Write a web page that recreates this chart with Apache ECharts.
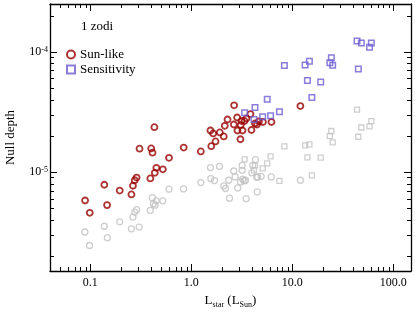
<!DOCTYPE html>
<html><head><meta charset="utf-8">
<script src="https://cdn.jsdelivr.net/npm/echarts@6/dist/echarts.min.js"></script>
<style>html,body{margin:0;padding:0;background:#fff}#c{width:415px;height:312px}</style>
</head><body><div id="c"></div>
<script>
// Sun-like stars (red circles)
const sunL = [0.089, 0.099, 0.138, 0.147, 0.196, 0.256, 0.265, 0.276, 0.288, 0.308, 0.394, 0.402, 0.414, 0.432, 0.436, 0.452, 0.524, 0.603, 0.843, 1.245, 1.55, 1.65, 1.58, 1.74, 1.92, 2.10, 2.15, 2.29, 2.66, 2.64, 2.85, 2.87, 3.09, 3.15, 3.07, 3.22, 3.37, 3.52, 3.86, 3.95, 4.28, 4.48, 4.68, 5.13, 6.23, 12.05];
const sunN = [5.79e-6, 4.57e-6, 7.83e-6, 5.30e-6, 7.01e-6, 6.50e-6, 7.68e-6, 8.54e-6, 8.99e-6, 1.563e-5, 8.84e-6, 1.572e-5, 1.448e-5, 2.36e-5, 9.85e-6, 1.083e-5, 1.053e-5, 1.311e-5, 1.596e-5, 1.484e-5, 2.215e-5, 2.092e-5, 1.639e-5, 1.796e-5, 2.133e-5, 1.976e-5, 2.423e-5, 2.733e-5, 3.59e-5, 2.485e-5, 2.84e-5, 2.215e-5, 2.46e-5, 2.656e-5, 1.873e-5, 2.215e-5, 2.656e-5, 2.786e-5, 3.035e-5, 2.236e-5, 2.532e-5, 2.485e-5, 2.63e-5, 2.606e-5, 2.606e-5, 3.536e-5];
// Sun-like, grey companion values
const sunGrayL = [0.0886, 0.0986, 0.138, 0.148, 0.196, 0.256, 0.265, 0.276, 0.288, 0.305, 0.393, 0.412, 0.422, 0.439, 0.451, 0.523, 0.602, 0.839, 1.245, 1.552, 1.563, 1.700, 1.905, 2.101, 2.184, 2.354, 2.392, 2.639, 2.724, 2.891, 3.074, 3.239, 3.195, 3.195, 3.445, 3.499, 3.344, 3.977, 4.069, 4.325, 4.455, 4.496, 4.559, 4.925, 6.185, 12.05];
const sunGrayN = [3.166e-6, 2.446e-6, 3.536e-6, 2.839e-6, 3.852e-6, 3.364e-6, 4.213e-6, 4.636e-6, 4.862e-6, 3.482e-6, 4.789e-6, 6.112e-6, 5.451e-6, 5.298e-6, 5.75e-6, 5.75e-6, 7.19e-6, 7.23e-6, 8.17e-6, 1.088e-5, 8.82e-6, 8.49e-6, 1.115e-5, 7.66e-6, 7.29e-6, 8.54e-6, 6.05e-6, 1.019e-5, 9.09e-6, 7.37e-6, 8.26e-6, 8.70e-6, 1.033e-5, 1.136e-5, 8.54e-6, 6.0e-6, 8.42e-6, 9.85e-6, 1.136e-5, 1.267e-5, 9.04e-6, 6.83e-6, 9.09e-6, 9.21e-6, 9.09e-6, 8.54e-6];
// Sensitivity (blue squares)
const sensL = [3.38, 4.28, 4.18, 5.10, 5.66, 6.11, 7.47, 8.37, 13.42, 14.80, 14.14, 15.66, 19.14, 23.60, 24.42, 25.16, 43.85, 48.36, 60.72, 58.29, 45.16];
const sensN = [3.106e-5, 3.436e-5, 2.733e-5, 2.886e-5, 4.025e-5, 2.936e-5, 3.171e-5, 7.70e-5, 7.76e-5, 8.34e-5, 5.78e-5, 4.175e-5, 5.61e-5, 8.11e-5, 8.92e-5, 7.73e-5, 1.233e-4, 1.183e-4, 1.183e-4, 1.094e-4, 7.19e-5];
// Sensitivity, grey companion values
const sensGrayL = [3.38, 4.28, 4.18, 5.10, 5.66, 6.11, 7.47, 8.37, 13.42, 14.80, 14.14, 15.66, 19.14, 23.60, 24.42, 25.16, 43.85, 48.36, 60.72, 58.29, 45.16];
const sensGrayN = [1.274e-5, 1.136e-5, 1.033e-5, 1.073e-5, 1.18e-5, 1.349e-5, 8.42e-6, 1.633e-5, 1.664e-5, 1.696e-5, 1.324e-5, 9.39e-6, 1.316e-5, 1.987e-5, 2.194e-5, 1.762e-5, 3.307e-5, 2.346e-5, 2.646e-5, 2.392e-5, 1.964e-5];

// Axis ticks
const xMajor = [0.1, 1, 10, 100];
const xMinor = [0.05, 0.06, 0.07, 0.08, 0.09, 0.2, 0.3, 0.4, 0.5, 0.6, 0.7, 0.8, 0.9, 2, 3, 4, 5, 6, 7, 8, 9, 20, 30, 40, 50, 60, 70, 80, 90];
const yMajor = [1e-5, 1e-4];
const yMinor = [2e-6, 3e-6, 4e-6, 5e-6, 6e-6, 7e-6, 8e-6, 9e-6, 2e-5, 3e-5, 4e-5, 5e-5, 6e-5, 7e-5, 8e-5, 9e-5, 2e-4];
const xMin = 0.04, xMax = 150, yMin = 1.5e-6, yMax = 2.5e-4;

const FONT = 'Liberation Serif';
const MAJOR_LEN = 7, MINOR_LEN = 4;
const zip = (a, b) => a.map((v, i) => [v, b[i]]);

function axis(pos, isX, primary) {
  const a = {
    type: 'log', position: pos,
    min: isX ? xMin : yMin, max: isX ? xMax : yMax,
    axisLine: { show: true, onZero: false, lineStyle: { color: '#000', width: 1.3 } },
    axisTick: { show: false },
    axisLabel: { show: false },
    splitLine: { show: false }
  };
  if (primary) {
    if (isX) {
      a.axisLabel = { show: true, customValues: xMajor, margin: 6, color: '#000', fontFamily: FONT, fontSize: 12,
        formatter: v => (v >= 1 ? Number(v).toFixed(1) : String(v)) };
      a.name = '{a|L}{s|star}{a| (L}{s|Sun}{a|)}';
      a.nameLocation = 'middle';
      a.nameGap = 20;
      a.nameTextStyle = { color: '#000', fontFamily: FONT, fontSize: 13,
        rich: { a: { fontFamily: FONT, fontSize: 13, color: '#000', verticalAlign: 'bottom', padding: [0, 0, 2, 0] },
                s: { fontFamily: FONT, fontSize: 8, color: '#000', verticalAlign: 'bottom', padding: [0, 0, 0, 0] } } };
    } else {
      a.axisLabel = { show: true, customValues: yMajor, margin: 2, color: '#000', fontFamily: FONT, fontSize: 12,
        formatter: v => '{b|10}{s|' + Math.round(Math.log10(v)) + '}',
        rich: { b: { fontFamily: FONT, fontSize: 12, color: '#000', verticalAlign: 'bottom' },
                s: { fontFamily: FONT, fontSize: 8, color: '#000', verticalAlign: 'top' } } };
      a.name = 'Null depth';
      a.nameLocation = 'middle';
      a.nameGap = 33;
      a.nameTextStyle = { color: '#000', fontFamily: FONT, fontSize: 13 };
    }
  }
  return a;
}

// inward tick marks on all four sides, positioned through the axes' own scales
function xTickRenderer(len) {
  return function (params, api) {
    const p = api.coord([api.value(0), api.value(1)]);
    const cs = params.coordSys;
    const x = Math.round(p[0]) + 0.5, bottom = cs.y + cs.height, top = cs.y;
    return { type: 'group', children: [
      { type: 'line', shape: { x1: x, y1: bottom, x2: x, y2: bottom - len }, style: { stroke: '#000', lineWidth: 1 } },
      { type: 'line', shape: { x1: x, y1: top, x2: x, y2: top + len }, style: { stroke: '#000', lineWidth: 1 } } ] };
  };
}
function yTickRenderer(len) {
  return function (params, api) {
    const p = api.coord([api.value(0), api.value(1)]);
    const cs = params.coordSys;
    const y = Math.round(p[1]) + 0.5, left = cs.x, right = cs.x + cs.width;
    return { type: 'group', children: [
      { type: 'line', shape: { x1: left, y1: y, x2: left + len, y2: y }, style: { stroke: '#000', lineWidth: 1 } },
      { type: 'line', shape: { x1: right, y1: y, x2: right - len, y2: y }, style: { stroke: '#000', lineWidth: 1 } } ] };
  };
}
const tickSeries = (name, data, render) => ({ name, type: 'custom', renderItem: render, data,
  clip: false, silent: true, z: 5, encode: { x: 0, y: 1 } });

const RED = '#990000', BLUE = '#6b5bd2', GREY = '#c2c2c2';
const option = {
  animation: false,
  backgroundColor: '#fff',
  grid: { left: 50, right: 4, top: 4, bottom: 41, outerBoundsMode: 'none' },
  title: { text: '1 zodi', left: 81, top: 20, padding: 0,
    textStyle: { fontFamily: FONT, fontSize: 13, fontWeight: 'normal', color: '#000' } },
  legend: { data: ['Sun-like', 'Sensitivity'], orient: 'vertical', left: 66, top: 48, padding: 0,
    itemWidth: 8, itemHeight: 8, itemGap: 2,
    textStyle: { fontFamily: FONT, fontSize: 13, color: '#000' } },
  xAxis: [axis('bottom', true, true), axis('top', true, false)],
  yAxis: [axis('left', false, true), axis('right', false, false)],
  series: [
    { name: 'Sun-like grey', type: 'scatter', symbol: 'circle', symbolSize: 6, data: zip(sunGrayL, sunGrayN),
      itemStyle: { color: 'rgba(0,0,0,0)', borderColor: GREY, borderWidth: 1.3 } },
    { name: 'Sensitivity grey', type: 'scatter', symbol: 'rect', symbolSize: 5, data: zip(sensGrayL, sensGrayN),
      itemStyle: { color: 'rgba(0,0,0,0)', borderColor: GREY, borderWidth: 1.3 } },
    { name: 'Sun-like', type: 'scatter', symbol: 'circle', symbolSize: 6, data: zip(sunL, sunN),
      itemStyle: { color: 'rgba(0,0,0,0)', borderColor: RED, borderWidth: 1.8 } },
    { name: 'Sensitivity', type: 'scatter', symbol: 'rect', symbolSize: 5.5, data: zip(sensL, sensN),
      itemStyle: { color: 'rgba(0,0,0,0)', borderColor: BLUE, borderWidth: 1.5 } },
    tickSeries('xMajorTicks', xMajor.map(v => [v, yMin]), xTickRenderer(MAJOR_LEN)),
    tickSeries('xMinorTicks', xMinor.map(v => [v, yMin]), xTickRenderer(MINOR_LEN)),
    tickSeries('yMajorTicks', yMajor.map(v => [xMin, v]), yTickRenderer(MAJOR_LEN)),
    tickSeries('yMinorTicks', yMinor.map(v => [xMin, v]), yTickRenderer(MINOR_LEN))
  ]
};
const chart = echarts.init(document.getElementById('c'), null, { renderer: 'canvas' });
chart.setOption(option);
</script>
</body></html>
